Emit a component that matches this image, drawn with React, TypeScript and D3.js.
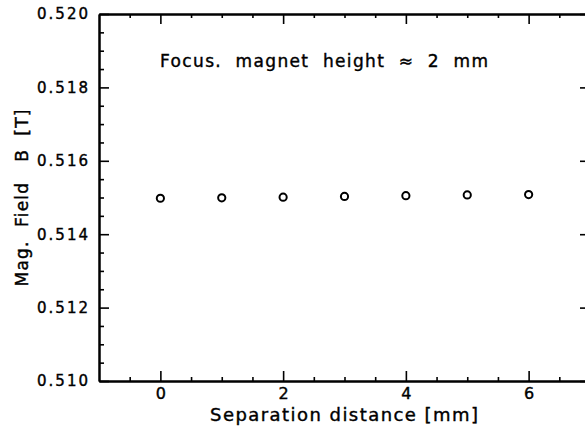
import React, { useEffect, useRef } from 'react';
import * as d3 from 'd3';

// separation distance [mm] and measured field [T]
const separations = [0, 1, 2, 3, 4, 5, 6];
const fieldValues = [0.51498, 0.51499, 0.51501, 0.51503, 0.51505, 0.51507, 0.51508];

const xMajorTicks = [0, 2, 4, 6];
const xMinorTicks = [-0.5, 0.5, 1, 1.5, 2.5, 3, 3.5, 4.5, 5, 5.5, 6.5];
const yMajorTicks = [0.51, 0.512, 0.514, 0.516, 0.518, 0.52];
const yTickLabels = ['0.510', '0.512', '0.514', '0.516', '0.518', '0.520'];

const xTitle = 'Separation distance [mm]';
const yTitle = 'Mag.  Field   B  [T]';
const note = 'Focus.  magnet  height  \u2248  2  mm';

const W = 585;
const H = 434;
const FONT = '"DejaVu Sans", Verdana, sans-serif';

const App = () => {
  const ref = useRef<SVGSVGElement>(null);

  useEffect(() => {
    const svg = d3.select(ref.current);
    svg.selectAll('*').remove();

    const x = d3.scaleLinear().domain([-1, 7]).range([99, 590]);
    const y = d3.scaleLinear().domain([0.51, 0.52]).range([381, 14]);

    // minor ticks every 0.0005 on y
    const yMinor = d3.range(0, 21).map(i => 0.51 + i * 0.0005)
      .filter(v => !yMajorTicks.some(m => Math.abs(m - v) < 1e-7));

    const styleAxis = (g: any, labels: boolean) => {
      g.select('.domain').attr('stroke', '#000').attr('stroke-width', 2);
      g.selectAll('.tick line').attr('stroke', '#000').attr('stroke-width', 1.6);
      if (!labels) g.selectAll('.tick text').remove();
      else g.selectAll('.tick text').attr('fill', '#000').attr('stroke', '#000').attr('stroke-width', 0.4);
    };

    // left
    const left = svg.append('g').attr('transform', `translate(${x(-1)},0)`)
      .call(d3.axisLeft(y).tickValues(yMajorTicks).tickSize(-10).tickPadding(11)
        .tickFormat((d, i) => yTickLabels[i]).tickSizeOuter(0));
    left.attr('font-family', FONT).attr('font-size', 15);
    styleAxis(left, true);
    left.selectAll('.tick text').attr('textLength', 51).attr('lengthAdjust', 'spacing');
    const leftMinor = svg.append('g').attr('transform', `translate(${x(-1)},0)`)
      .call(d3.axisLeft(y).tickValues(yMinor).tickSize(-5).tickSizeOuter(0));
    styleAxis(leftMinor, false);

    // right
    const right = svg.append('g').attr('transform', `translate(${x(7)},0)`)
      .call(d3.axisRight(y).tickValues(yMajorTicks).tickSize(-10).tickSizeOuter(0));
    styleAxis(right, false);
    const rightMinor = svg.append('g').attr('transform', `translate(${x(7)},0)`)
      .call(d3.axisRight(y).tickValues(yMinor).tickSize(-5).tickSizeOuter(0));
    styleAxis(rightMinor, false);

    // bottom
    const bottom = svg.append('g').attr('transform', `translate(0,${y(0.51)})`)
      .call(d3.axisBottom(x).tickValues(xMajorTicks).tickSize(-10).tickPadding(7)
        .tickFormat(d3.format('d')).tickSizeOuter(0));
    bottom.attr('font-family', FONT).attr('font-size', 16);
    styleAxis(bottom, true);
    const bottomMinor = svg.append('g').attr('transform', `translate(0,${y(0.51)})`)
      .call(d3.axisBottom(x).tickValues(xMinorTicks).tickSize(-4).tickSizeOuter(0));
    styleAxis(bottomMinor, false);

    // top
    const top = svg.append('g').attr('transform', `translate(0,${y(0.52)})`)
      .call(d3.axisTop(x).tickValues(xMajorTicks).tickSize(-10).tickSizeOuter(0));
    styleAxis(top, false);
    const topMinor = svg.append('g').attr('transform', `translate(0,${y(0.52)})`)
      .call(d3.axisTop(x).tickValues(xMinorTicks).tickSize(-4).tickSizeOuter(0));
    styleAxis(topMinor, false);

    // data points
    svg.append('g')
      .selectAll('circle')
      .data(separations)
      .join('circle')
      .attr('cx', d => x(d))
      .attr('cy', (d, i) => y(fieldValues[i]))
      .attr('r', 3.6)
      .attr('fill', 'white')
      .attr('stroke', '#000')
      .attr('stroke-width', 2);

    const textStyle = (t: any, size: number) =>
      t.attr('font-family', FONT).attr('font-size', size)
        .attr('fill', '#000').attr('stroke', '#000').attr('stroke-width', 0.4);

    // annotation
    svg.append('text')
      .attr('x', 160).attr('y', 67)
      .call(textStyle, 17)
      .attr('xml:space', 'preserve')
      .attr('textLength', 328).attr('lengthAdjust', 'spacing')
      .text(note);

    // axis titles
    svg.append('text')
      .attr('x', 344).attr('y', 421)
      .attr('text-anchor', 'middle')
      .call(textStyle, 18)
      .attr('textLength', 268).attr('lengthAdjust', 'spacing')
      .text(xTitle);

    svg.append('text')
      .attr('transform', 'translate(28,198) rotate(-90)')
      .attr('text-anchor', 'middle')
      .call(textStyle, 17)
      .attr('xml:space', 'preserve')
      .attr('textLength', 177).attr('lengthAdjust', 'spacing')
      .text(yTitle);
  }, []);

  return (
    <svg ref={ref} width={W} height={H}
      style={{ position: 'absolute', left: 0, top: 0, background: 'white' }} />
  );
};

export default App;
